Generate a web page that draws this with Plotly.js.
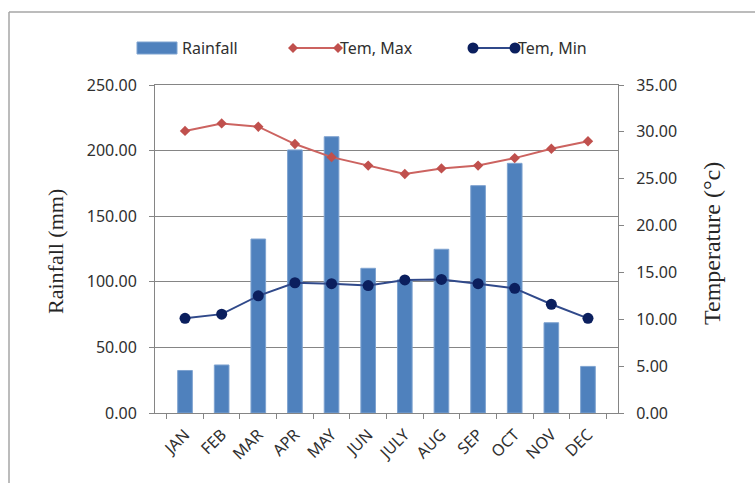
<!DOCTYPE html>
<html>
<head>
<meta charset="utf-8">
<script src="https://cdn.plot.ly/plotly-3.0.1.min.js"></script>
<style>
  html, body { margin: 0; padding: 0; background: #fff; }
  #chart { width: 755px; height: 483px; }
</style>
</head>
<body>
<div id="chart"></div>
<script>
// Monthly climate data
const months = ["JAN", "FEB", "MAR", "APR", "MAY", "JUN", "JULY", "AUG", "SEP", "OCT", "NOV", "DEC"];
const rainfall = [32.4, 36.6, 132.6, 200.5, 210.6, 110.3, 101.5, 124.8, 173.3, 190.3, 68.8, 35.5];
const temMax = [30.1, 30.9, 30.55, 28.7, 27.3, 26.4, 25.5, 26.1, 26.4, 27.2, 28.2, 29.0];
const temMin = [10.1, 10.55, 12.5, 13.9, 13.8, 13.6, 14.2, 14.25, 13.8, 13.3, 11.6, 10.1];

const rainTicks = [0, 50, 100, 150, 200, 250];
const tempTicks = [0, 5, 10, 15, 20, 25, 30, 35];

const legendNames = ["Rainfall", "Tem, Max", "Tem, Min"];

const BLUE = "#4F81BD", RED = "#C0504D", NAVY = "#0B1F5E";
const GRID = "#858585", TEXT = "#303030";
const W = 755, H = 483;
const M = { l: 155, r: 137, t: 85, b: 70 };

// pixel -> paper helpers for the legend keys and frame
const pw = W - M.l - M.r, ph = H - M.t - M.b;
const px = x => (x - M.l) / pw;
const py = y => (H - M.b - y) / ph;

const traces = [
  {
    type: "bar", name: legendNames[0], x: months, y: rainfall,
    marker: { color: BLUE, line: { color: "#7FA3D0", width: 1 } },
    yaxis: "y", showlegend: false
  },
  {
    type: "scatter", mode: "lines+markers", name: legendNames[1], x: months, y: temMax,
    line: { color: "#CC6360", width: 2 },
    marker: { symbol: "diamond", size: 8, color: RED },
    yaxis: "y2", showlegend: false
  },
  {
    type: "scatter", mode: "lines+markers", name: legendNames[2], x: months, y: temMin,
    line: { color: "#30498A", width: 2 },
    marker: { symbol: "circle", size: 11, color: NAVY },
    yaxis: "y2", showlegend: false
  }
];

// legend keys drawn as shapes
function diamond(cx, cy, r) {
  return "M" + px(cx - r) + "," + py(cy) + " L" + px(cx) + "," + py(cy - r) +
         " L" + px(cx + r) + "," + py(cy) + " L" + px(cx) + "," + py(cy + r) + " Z";
}
const LY = 48;
const shapes = [
  // chart frame
  { type: "line", xref: "paper", yref: "paper", x0: px(9), x1: px(9), y0: py(12), y1: py(H + 5), line: { color: "#A6A6A6", width: 1.5 } },
  { type: "line", xref: "paper", yref: "paper", x0: px(9), x1: px(W + 5), y0: py(12), y1: py(12), line: { color: "#A6A6A6", width: 1.5 } },
  // Rainfall key
  { type: "rect", xref: "paper", yref: "paper", x0: px(137), x1: px(177), y0: py(LY - 6), y1: py(LY + 6), fillcolor: BLUE, line: { color: "#7FA3D0", width: 1 } },
  // Tem, Max key
  { type: "line", xref: "paper", yref: "paper", x0: px(293), x1: px(338), y0: py(LY), y1: py(LY), line: { color: "#CC6360", width: 2 } },
  { type: "path", xref: "paper", yref: "paper", path: diamond(293, LY, 5), fillcolor: RED, line: { width: 0 } },
  { type: "path", xref: "paper", yref: "paper", path: diamond(338, LY, 5), fillcolor: RED, line: { width: 0 } },
  // Tem, Min key
  { type: "line", xref: "paper", yref: "paper", x0: px(473), x1: px(515), y0: py(LY), y1: py(LY), line: { color: "#30498A", width: 2 } },
  { type: "circle", xref: "paper", yref: "paper", x0: px(467.5), x1: px(478.5), y0: py(LY - 5.5), y1: py(LY + 5.5), fillcolor: NAVY, line: { width: 0 } },
  { type: "circle", xref: "paper", yref: "paper", x0: px(509.5), x1: px(520.5), y0: py(LY - 5.5), y1: py(LY + 5.5), fillcolor: NAVY, line: { width: 0 } }
];

const font = { family: "Noto Sans, Open Sans, sans-serif", size: 16, color: TEXT };
const serif = { family: "Liberation Serif, Times New Roman, serif", size: 22, color: "#262626" };

const annotations = [
  { text: legendNames[0], xref: "paper", yref: "paper", x: px(180), y: py(LY), xanchor: "left", yanchor: "middle", showarrow: false, font: font },
  { text: legendNames[1], xref: "paper", yref: "paper", x: px(338), y: py(LY), xanchor: "left", yanchor: "middle", showarrow: false, font: font },
  { text: legendNames[2], xref: "paper", yref: "paper", x: px(516), y: py(LY), xanchor: "left", yanchor: "middle", showarrow: false, font: font },
  { text: "Rainfall (mm)", xref: "paper", yref: "paper", x: px(55), y: py(252), xanchor: "center", yanchor: "middle", textangle: -90, showarrow: false, font: serif },
  { text: "Temperature (°c)", xref: "paper", yref: "paper", x: px(712), y: py(244), xanchor: "center", yanchor: "middle", textangle: -90, showarrow: false, font: Object.assign({}, serif, { size: 24 }) }
];

const layout = {
  width: W, height: H,
  margin: M,
  paper_bgcolor: "#fff", plot_bgcolor: "#fff",
  font: font,
  showlegend: false,
  bargap: 0.6,
  xaxis: {
    type: "category", tickson: "boundaries",
    showline: true, mirror: true, linecolor: GRID, linewidth: 1,
    ticks: "outside", ticklen: 5, tickcolor: GRID,
    tickangle: -45, showgrid: false, tickfont: font, ticklabelstandoff: 5
  },
  yaxis: {
    range: [0, 250], tickvals: rainTicks, tickformat: ".2f",
    showline: true, linecolor: GRID, linewidth: 1,
    ticks: "outside", ticklen: 5, tickcolor: GRID,
    showgrid: true, gridcolor: GRID, gridwidth: 1, zeroline: false,
    tickfont: font, ticklabelstandoff: 9
  },
  yaxis2: {
    range: [0, 35], tickvals: tempTicks, tickformat: ".2f",
    overlaying: "y", side: "right",
    showline: true, linecolor: GRID, linewidth: 1,
    ticks: "outside", ticklen: 5, tickcolor: GRID,
    showgrid: false, zeroline: false,
    tickfont: font, ticklabelstandoff: 9
  },
  shapes: shapes,
  annotations: annotations
};

Plotly.newPlot("chart", traces, layout, { staticPlot: true, displayModeBar: false });
</script>
</body>
</html>
